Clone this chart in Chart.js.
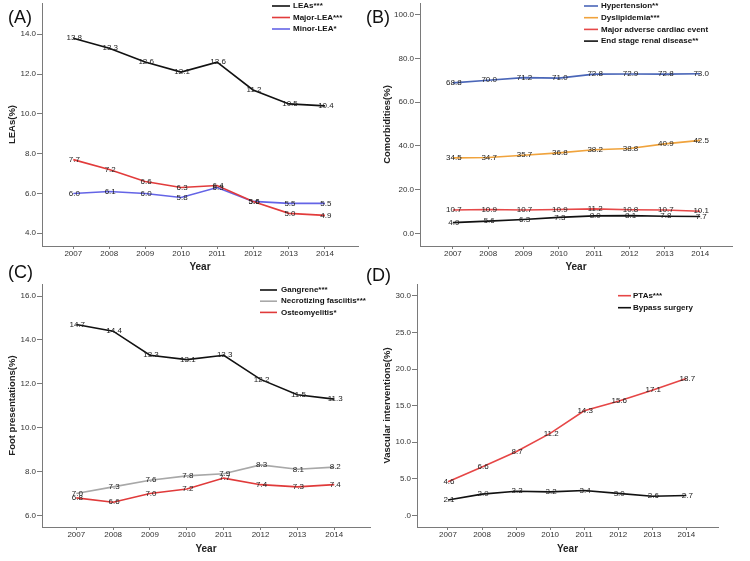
<!DOCTYPE html>
<html>
<head>
<meta charset="utf-8">
<script src="https://cdn.jsdelivr.net/npm/chart.js@4.4.1/dist/chart.umd.min.js"></script>
<style>
  body { margin: 0; background: #fff; }
  #wrap { position: relative; width: 750px; height: 561px; overflow: hidden; background: #fff; }
  canvas { position: absolute; }
  .tag { position: absolute; font: 18px/18px "Liberation Sans", Arial, sans-serif; color: #111; }
</style>
</head>
<body>
<div id="wrap">
  <canvas id="panelA" width="375" height="280" style="left:0;top:0"></canvas>
  <canvas id="panelB" width="375" height="280" style="left:375px;top:0"></canvas>
  <canvas id="panelC" width="375" height="281" style="left:0;top:280px"></canvas>
  <canvas id="panelD" width="375" height="281" style="left:375px;top:280px"></canvas>
  <div class="tag" style="left:8px;top:8px">(A)</div>
  <div class="tag" style="left:366px;top:8px">(B)</div>
  <div class="tag" style="left:8px;top:263px">(C)</div>
  <div class="tag" style="left:366px;top:266px">(D)</div>
</div>
<script>
// --- dados ---
const years = [2007, 2008, 2009, 2010, 2011, 2012, 2013, 2014];

// (A) amputações
const leas = [13.8, 13.3, 12.6, 12.1, 12.6, 11.2, 10.5, 10.4];
const majorLea = [7.7, 7.2, 6.6, 6.3, 6.4, 5.6, 5.0, 4.9];
const minorLea = [6.0, 6.1, 6.0, 5.8, 6.3, 5.6, 5.5, 5.5];
const yTicksA = [4, 6, 8, 10, 12, 14];

// (B) comorbidades
const hypertension = [68.8, 70.0, 71.2, 71.0, 72.8, 72.9, 72.8, 73.0];
const dyslipidemia = [34.5, 34.7, 35.7, 36.8, 38.2, 38.8, 40.9, 42.5];
const mace = [10.7, 10.9, 10.7, 10.9, 11.2, 10.8, 10.7, 10.1];
const esrd = [4.9, 5.6, 6.3, 7.3, 8.0, 8.1, 7.8, 7.7];
const yTicksB = [0, 20, 40, 60, 80, 100];

// (C) apresentações do pé
const gangrene = [14.7, 14.4, 13.3, 13.1, 13.3, 12.2, 11.5, 11.3];
const necrotizing = [7.0, 7.3, 7.6, 7.8, 7.9, 8.3, 8.1, 8.2];
const osteomyelitis = [6.8, 6.6, 7.0, 7.2, 7.7, 7.4, 7.3, 7.4];
const yTicksC = [6, 8, 10, 12, 14, 16];

// (D) intervenções vasculares
const ptas = [4.6, 6.6, 8.7, 11.2, 14.3, 15.6, 17.1, 18.7];
const bypass = [2.1, 2.9, 3.3, 3.2, 3.4, 3.0, 2.6, 2.7];
const yTicksD = [0, 5, 10, 15, 20, 25, 30];

const FONT = '"Liberation Sans", Arial, sans-serif';
const AXIS = '#7a7a7a';

// escreve o valor de cada ponto em cima da linha
const valueLabels = {
    id: 'valueLabels',
    afterDatasetsDraw(chart) {
        const ctx = chart.ctx;
        ctx.save();
        ctx.font = '8px ' + FONT;
        ctx.fillStyle = '#222';
        ctx.textAlign = 'center';
        ctx.textBaseline = 'middle';
        chart.data.datasets.forEach((ds, i) => {
            chart.getDatasetMeta(i).data.forEach((pt, j) => {
                ctx.fillText(ds.data[j].y.toFixed(1), pt.x + 1, pt.y);
            });
        });
        ctx.restore();
    }
};

// legenda desenhada dentro da área, como no SPSS
const panelLegend = {
    id: 'panelLegend',
    afterDraw(chart, args, opts) {
        const ctx = chart.ctx;
        ctx.save();
        ctx.font = 'bold 8px ' + FONT;
        ctx.textBaseline = 'middle';
        chart.data.datasets.forEach((ds, i) => {
            const y = opts.y + i * opts.step;
            ctx.strokeStyle = ds.borderColor;
            ctx.lineWidth = 1.6;
            ctx.beginPath();
            ctx.moveTo(opts.x0, y);
            ctx.lineTo(opts.x1, y);
            ctx.stroke();
            ctx.fillStyle = '#111';
            ctx.fillText(ds.label, opts.tx, y);
        });
        ctx.restore();
    }
};

function makePanel(id, cfg) {
    const canvas = document.getElementById(id);
    const H = canvas.height;
    new Chart(canvas, {
        type: 'line',
        data: {
            datasets: cfg.series.map(s => ({
                label: s.label,
                data: years.map((yr, i) => ({ x: yr, y: s.values[i] })),
                borderColor: s.color,
                borderWidth: 1.6,
                pointRadius: 0,
                tension: 0
            }))
        },
        options: {
            responsive: false,
            animation: false,
            devicePixelRatio: 1,
            layout: { padding: { left: 0, right: canvas.width - cfg.area.right, top: cfg.area.top, bottom: 0 } },
            plugins: {
                legend: { display: false },
                tooltip: { enabled: false },
                panelLegend: cfg.legend
            },
            scales: {
                x: {
                    type: 'linear',
                    min: cfg.xRange[0],
                    max: cfg.xRange[1],
                    afterBuildTicks: s => { s.ticks = years.map(v => ({ value: v })); },
                    afterFit: s => { s.height = H - cfg.area.bottom; },
                    ticks: { font: { family: FONT, size: 8 }, color: '#333', padding: 0, maxRotation: 0, autoSkip: false, callback: v => String(v) },
                    grid: { drawOnChartArea: false, drawTicks: true, tickLength: 3, color: AXIS },
                    border: { color: AXIS, width: 1 },
                    title: { display: true, text: 'Year', font: { family: FONT, size: 10, weight: 'bold' }, color: '#222', padding: { top: 0, bottom: cfg.yearPad } }
                },
                y: {
                    min: cfg.yRange[0],
                    max: cfg.yRange[1],
                    afterBuildTicks: s => { s.ticks = cfg.yTicks.map(v => ({ value: v })); },
                    afterFit: s => { s.width = cfg.area.left; },
                    ticks: { font: { family: FONT, size: 8, lineHeight: 0.5 }, color: '#333', padding: 1, callback: cfg.fmt },
                    grid: { drawOnChartArea: false, drawTicks: true, tickLength: 5, color: AXIS },
                    border: { color: AXIS, width: 1 },
                    title: { display: true, text: cfg.yTitle, font: { family: FONT, size: 9.5, weight: 'bold' }, color: '#222', padding: { top: 7, bottom: 0 } }
                }
            }
        },
        plugins: [valueLabels, panelLegend]
    });
}

const fmt1 = v => v.toFixed(1);

makePanel('panelA', {
    series: [
        { label: 'LEAs***', values: leas, color: '#111111' },
        { label: 'Major-LEA***', values: majorLea, color: '#e23b3b' },
        { label: 'Minor-LEA*', values: minorLea, color: '#6464e6' }
    ],
    area: { left: 42, right: 358, top: 3, bottom: 246 },
    xRange: [2006.13, 2014.92],
    yRange: [3.36, 15.57],
    yTicks: yTicksA,
    fmt: fmt1,
    yTitle: 'LEAs(%)',
    yearPad: 7,
    legend: { x0: 272, x1: 290, tx: 293, y: 6, step: 11.5 }
});

makePanel('panelB', {
    series: [
        { label: 'Hypertension**', values: hypertension, color: '#4a66b8' },
        { label: 'Dyslipidemia***', values: dyslipidemia, color: '#f0a33c' },
        { label: 'Major adverse cardiac event', values: mace, color: '#e64848' },
        { label: 'End stage renal disease**', values: esrd, color: '#111111' }
    ],
    area: { left: 45, right: 357, top: 3, bottom: 246 },
    xRange: [2006.07, 2014.9],
    yRange: [-5.8, 105.35],
    yTicks: yTicksB,
    fmt: fmt1,
    yTitle: 'Comorbidities(%)',
    yearPad: 7,
    legend: { x0: 209, x1: 223, tx: 226, y: 6, step: 11.7 }
});

makePanel('panelC', {
    series: [
        { label: 'Gangrene***', values: gangrene, color: '#111111' },
        { label: 'Necrotizing fasciitis***', values: necrotizing, color: '#a8a8a8' },
        { label: 'Osteomyelitis*', values: osteomyelitis, color: '#e03a3a' }
    ],
    area: { left: 42, right: 370, top: 4, bottom: 247 },
    xRange: [2006.07, 2014.97],
    yRange: [5.47, 16.55],
    yTicks: yTicksC,
    fmt: fmt1,
    yTitle: 'Foot presentations(%)',
    yearPad: 6,
    legend: { x0: 260, x1: 277, tx: 281, y: 10, step: 11.2 }
});

makePanel('panelD', {
    series: [
        { label: 'PTAs***', values: ptas, color: '#e64646' },
        { label: 'Bypass surgery', values: bypass, color: '#111111' }
    ],
    area: { left: 42, right: 343, top: 4, bottom: 247 },
    xRange: [2006.09, 2014.93],
    yRange: [-1.6, 31.64],
    yTicks: yTicksD,
    fmt: v => (v === 0 ? '.0' : v.toFixed(1)),
    yTitle: 'Vascular interventions(%)',
    yearPad: 6,
    legend: { x0: 243, x1: 256, tx: 258, y: 15.7, step: 12 }
});
</script>
</body>
</html>
